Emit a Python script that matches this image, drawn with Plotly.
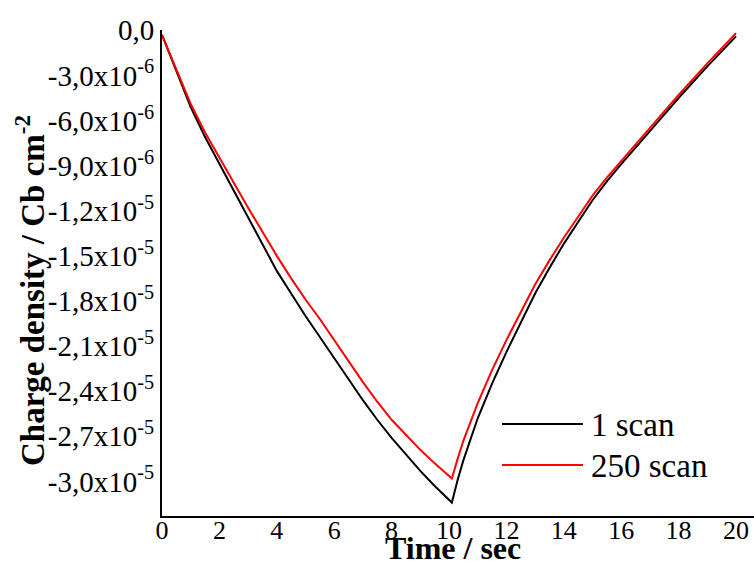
import plotly.graph_objects as go

time = [0, 0.5, 1, 1.5, 2, 2.5, 3, 3.5, 4, 4.5, 5, 5.5, 6, 6.5, 7, 7.5, 8, 8.5, 9, 9.5, 10, 10.1,
        10.3, 10.5, 11, 11.5, 12, 12.5, 13, 13.5, 14, 14.5, 15, 15.5, 16, 17, 18, 19, 20]
scan_1 = [-0.3, -2.7, -5.1, -7.1, -8.9, -10.7, -12.5, -14.3, -16.0, -17.5, -19.0, -20.4, -21.8, -23.2,
          -24.6, -25.9, -27.1, -28.2, -29.3, -30.3, -31.2, -31.4,
          -29.9, -28.6, -25.8, -23.5, -21.4, -19.4, -17.5, -15.8, -14.2, -12.75, -11.3, -10.05, -8.9,
          -6.7, -4.5, -2.4, -0.4]
scan_250 = [-0.3, -2.6, -4.9, -6.8, -8.5, -10.2, -11.8, -13.4, -15.0, -16.5, -17.9, -19.2, -20.6, -22.0,
            -23.4, -24.7, -25.9, -26.9, -27.9, -28.8, -29.6, -29.8,
            -28.5, -27.3, -24.8, -22.6, -20.6, -18.7, -16.9, -15.3, -13.8, -12.4, -11.0, -9.8, -8.7,
            -6.5, -4.3, -2.2, -0.2]
scale = 1e-6
y_1 = [v * scale for v in scan_1]
y_250 = [v * scale for v in scan_250]

x_ticks = [0, 2, 4, 6, 8, 10, 12, 14, 16, 18, 20]
y_ticks = [0, -3e-6, -6e-6, -9e-6, -1.2e-5, -1.5e-5, -1.8e-5, -2.1e-5, -2.4e-5, -2.7e-5, -3.0e-5]
y_ticktext = ["0,0", "-3,0x10<sup>-6</sup>", "-6,0x10<sup>-6</sup>", "-9,0x10<sup>-6</sup>",
              "-1,2x10<sup>-5</sup>", "-1,5x10<sup>-5</sup>", "-1,8x10<sup>-5</sup>", "-2,1x10<sup>-5</sup>",
              "-2,4x10<sup>-5</sup>", "-2,7x10<sup>-5</sup>", "-3,0x10<sup>-5</sup>"]
names = ["1 scan", "250 scan"]
colors = ["#000000", "#ff0000"]

FONT = "Liberation Serif, Times New Roman, serif"

fig = go.Figure()
fig.add_trace(go.Scatter(x=time, y=y_1, mode="lines", name=names[0],
                         line=dict(color=colors[0], width=2), showlegend=False))
fig.add_trace(go.Scatter(x=time, y=y_250, mode="lines", name=names[1],
                         line=dict(color=colors[1], width=2), showlegend=False))

W, H = 754, 567
L, R, T, B = 162, 0, 30, 51
pw, ph = W - L - R, H - T - B

def px(xp):
    return (xp - L) / pw

def py(yp):
    return (H - B - yp) / ph

# custom legend
legend_rows = [424, 465]
for name, col, yy in zip(names, colors, legend_rows):
    fig.add_shape(type="line", xref="paper", yref="paper", x0=px(502), x1=px(583), y0=py(yy), y1=py(yy),
                  line=dict(color=col, width=2))
    fig.add_annotation(text=name, xref="paper", yref="paper", x=px(589), y=py(yy + 1), xanchor="left",
                       yanchor="middle", showarrow=False, font=dict(family=FONT, size=33, color="black"))

fig.add_annotation(text="<b>Charge density / Cb cm<sup>-2</sup></b>", xref="paper", yref="paper",
                   x=px(30), y=py(291), xanchor="center", yanchor="middle", textangle=-90, showarrow=False,
                   font=dict(family=FONT, size=33, color="black"))
fig.add_annotation(text="<b>Time / sec</b>", xref="paper", yref="paper",
                   x=px(453), y=py(567), xanchor="center", yanchor="bottom", showarrow=False,
                   borderpad=0, font=dict(family=FONT, size=32, color="black"))

fig.update_layout(
    width=W, height=H,
    margin=dict(l=L, r=R, t=T, b=B, pad=0),
    paper_bgcolor="white", plot_bgcolor="white",
    font=dict(family=FONT, size=26, color="black"),
    xaxis=dict(range=[0, pw / 28.7], tickvals=x_ticks, ticktext=[str(v) for v in x_ticks],
               showgrid=False, zeroline=False, showline=True, linecolor="black", linewidth=2,
               ticks="", ticklen=0, ticklabelstandoff=-10,
               tickfont=dict(family=FONT, size=26, color="black")),
    yaxis=dict(range=[-3.23e-5, 0.02e-6], tickvals=y_ticks, ticktext=y_ticktext,
               showgrid=False, zeroline=False, showline=True, linecolor="black", linewidth=2,
               ticks="", ticklen=0,
               tickfont=dict(family=FONT, size=29, color="black")),
)

fig.write_html("out.html")
